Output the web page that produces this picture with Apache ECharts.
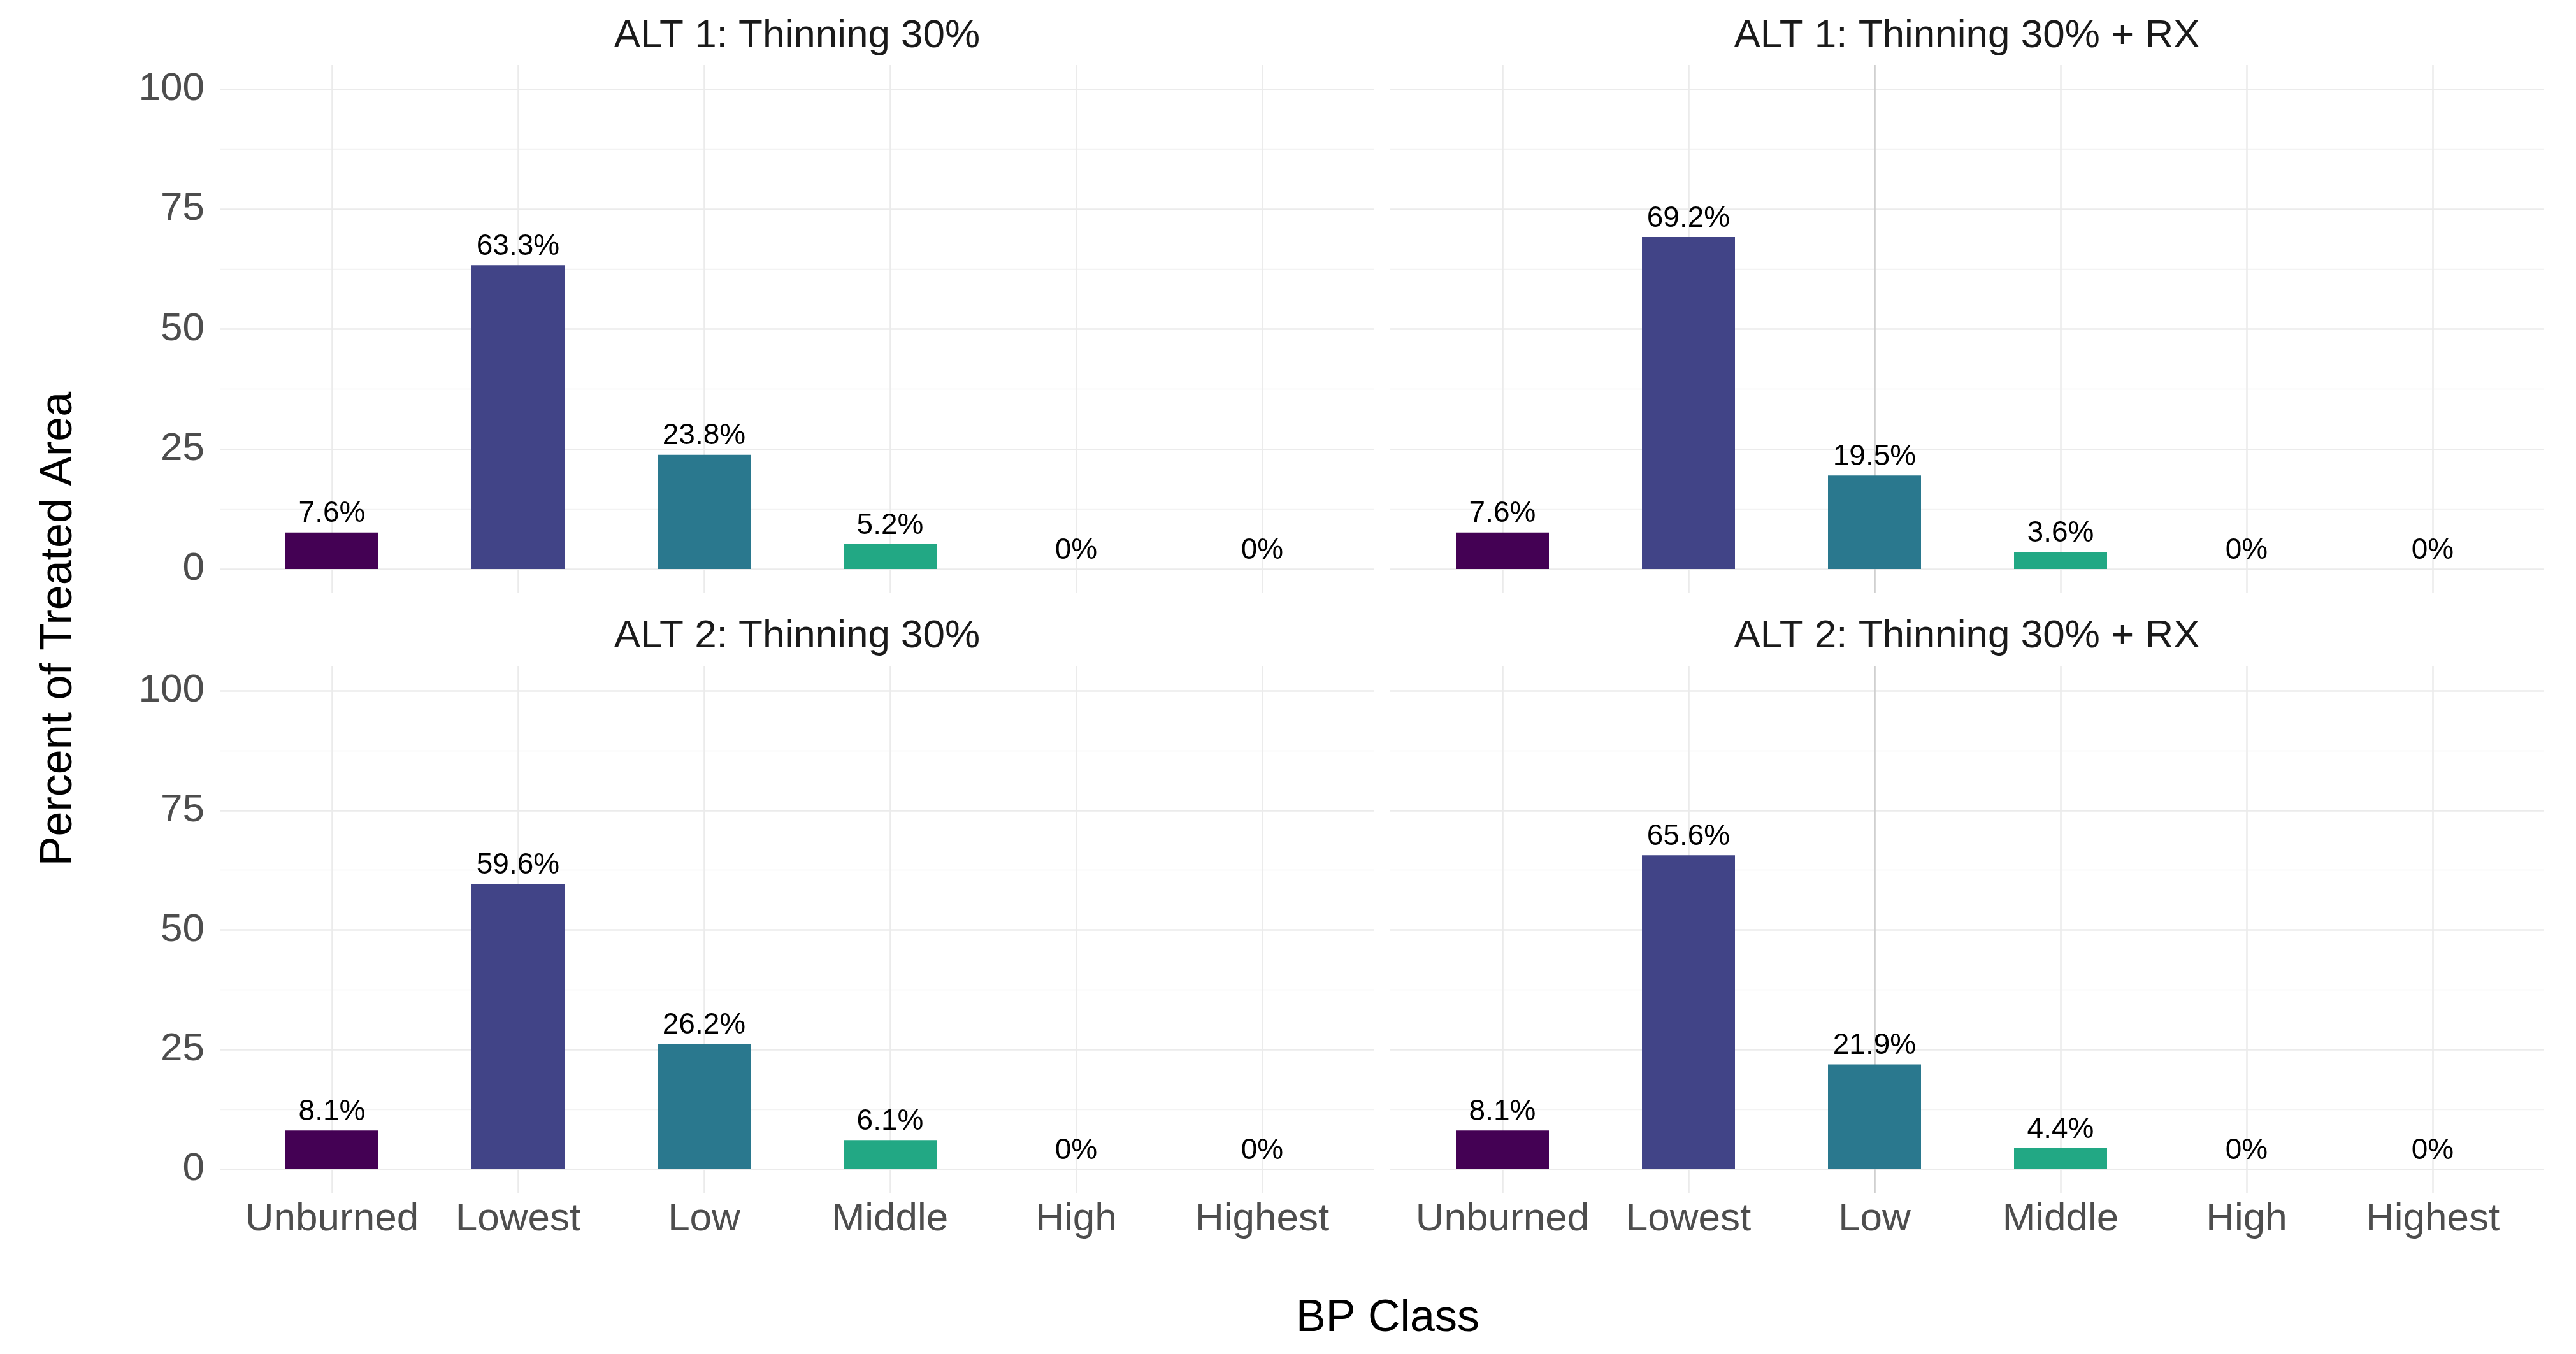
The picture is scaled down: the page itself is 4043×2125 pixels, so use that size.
<!DOCTYPE html>
<html>
<head>
<meta charset="utf-8">
<script src="https://cdn.jsdelivr.net/npm/echarts@6/dist/echarts.min.js"></script>
<style>
html,body{margin:0;padding:0;background:#fff;}
#chart{width:4043px;height:2125px;}
</style>
</head>
<body>
<div id="chart"></div>
<script>
// ---------- data ----------
const categories = ['Unburned', 'Lowest', 'Low', 'Middle', 'High', 'Highest'];
const panelTitles = ['ALT 1: Thinning 30%', 'ALT 1: Thinning 30% + RX', 'ALT 2: Thinning 30%', 'ALT 2: Thinning 30% + RX'];
const alt1Thinning = [7.6, 63.3, 23.8, 5.2, 0, 0];
const alt1ThinningRx = [7.6, 69.2, 19.5, 3.6, 0, 0];
const alt2Thinning = [8.1, 59.6, 26.2, 6.1, 0, 0];
const alt2ThinningRx = [8.1, 65.6, 21.9, 4.4, 0, 0];
const yTicks = [0, 25, 50, 75, 100];
const xAxisTitle = 'BP Class';
const yAxisTitle = 'Percent of Treated Area';
const barColors = ['#440154', '#414487', '#2A788E', '#22A884', '#7AD151', '#FDE725'];

const panelValues = [alt1Thinning, alt1ThinningRx, alt2Thinning, alt2ThinningRx];

// ---------- layout ----------
const FONT = "'Liberation Sans', Arial, Helvetica, sans-serif";
const colLeft = [346, 2182];
const colWidth = 1810;
const catStart = [521, 2358];
const catStep = 292;
const rowTop = [140, 1084];
const rowHeight = [753, 751];
const expandPx = 38;
const vLineColors = [
  ['#ebebeb'],
  ['#ebebeb', '#ebebeb', '#d0d0d0', '#ebebeb', '#ebebeb', '#ebebeb']
];

const grids = [], xAxes = [], yAxes = [], series = [], titles = [];

panelValues.forEach((vals, i) => {
  const col = i % 2, row = Math.floor(i / 2);
  const top = rowTop[row], h = rowHeight[row];
  // grid A: horizontal gridlines + y labels
  grids.push({left: colLeft[col], top: top, width: colWidth, height: h, containLabel: false});
  xAxes.push({gridIndex: 3 * i, type: 'value', show: false, min: 0, max: 1});
  yAxes.push({
    gridIndex: 3 * i, type: 'value', min: yTicks[0], max: yTicks[yTicks.length - 1], interval: 25,
    axisLine: {show: false}, axisTick: {show: false},
    axisLabel: {show: col === 0, color: '#4d4d4d', fontSize: 62, fontFamily: FONT, margin: 25},
    splitLine: {show: true, lineStyle: {color: '#ebebeb', width: 2.6}},
    minorTick: {show: false, splitNumber: 2},
    minorSplitLine: {show: true, lineStyle: {color: '#f3f3f3', width: 1.4}}
  });
  // grid B: vertical gridlines at category centres
  grids.push({left: catStart[col], top: top - expandPx, width: catStep * (categories.length - 1), height: h + 2 * expandPx});
  xAxes.push({
    gridIndex: 3 * i + 1, type: 'category', data: categories, boundaryGap: false,
    axisLine: {show: false}, axisTick: {show: false}, axisLabel: {show: false},
    splitLine: {show: true, lineStyle: {color: vLineColors[col], width: 2.6}}
  });
  yAxes.push({gridIndex: 3 * i + 1, type: 'value', show: false});
  // grid C: data
  grids.push({left: catStart[col] - catStep / 2, top: top, width: catStep * categories.length, height: h});
  xAxes.push({
    gridIndex: 3 * i + 2, type: 'category', data: categories,
    axisLine: {show: false}, axisTick: {show: false}, splitLine: {show: false},
    axisLabel: {show: row === 1, color: '#4d4d4d', fontSize: 62, fontFamily: FONT, margin: 48, interval: 0}
  });
  yAxes.push({gridIndex: 3 * i + 2, type: 'value', min: 0, max: 100, show: false, splitLine: {show: false}});
  series.push({
    type: 'bar', xAxisIndex: 3 * i + 2, yAxisIndex: 3 * i + 2,
    barWidth: '50%',
    data: vals.map((v, k) => ({value: v, itemStyle: {color: barColors[k]}})),
    label: {show: true, position: 'top', distance: 6, formatter: '{c}%', color: '#000', fontSize: 46, fontFamily: FONT},
    silent: true
  });
  titles.push({
    text: panelTitles[i],
    left: colLeft[col] + colWidth / 2, top: (row === 0 ? 60 : 1002) - 34,
    textAlign: 'center', padding: 0,
    textStyle: {color: '#1a1a1a', fontSize: 62, fontWeight: 'normal', fontFamily: FONT}
  });
});

const chart = echarts.init(document.getElementById('chart'), null, {renderer: 'canvas'});
chart.setOption({
  backgroundColor: '#ffffff',
  animation: false,
  title: titles,
  grid: grids,
  xAxis: xAxes,
  yAxis: yAxes,
  series: series,
  graphic: [
    {type: 'text', x: 2178, y: 2070, style: {text: xAxisTitle, fill: '#000', fontSize: 70, fontFamily: FONT, textAlign: 'center', textVerticalAlign: 'middle'}},
    {type: 'text', x: 93, y: 987, rotation: Math.PI / 2, style: {text: yAxisTitle, fill: '#000', fontSize: 70, fontFamily: FONT, textAlign: 'center', textVerticalAlign: 'middle'}}
  ]
});
</script>
</body>
</html>
